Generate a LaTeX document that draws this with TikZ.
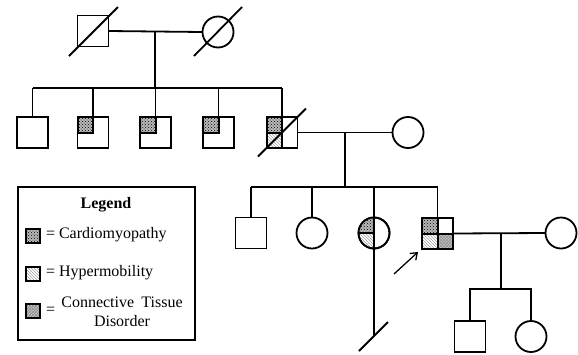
\documentclass[tikz,border=0pt]{standalone}
\usepackage{fontspec}
\setmainfont{Liberation Serif}
\usetikzlibrary{patterns,arrows.meta,calc}
\begin{document}
\begin{tikzpicture}[x=1pt,y=-1pt,
  every node/.style={outer sep=0pt,inner sep=0pt},
  ln/.style={line width=1.8pt},
  male/.style={draw,line width=1.8pt,rectangle,minimum size=31pt},
  female/.style={draw,line width=1.8pt,circle,minimum size=31pt},
  cardiobg/.style={fill=gray!55},
  cardio/.style={pattern=crosshatch dots,pattern color=black},
  hyper/.style={pattern=north west lines,pattern color=gray!75},
  ctd/.style={pattern=crosshatch,pattern color=gray!90},
  ctdbg/.style={fill=gray!45},
  quad/.style={line width=2pt},
  lgicon/.style={draw,line width=2pt,rectangle,minimum size=14pt},
  lgtext/.style={font=\fontsize{16}{19}\selectfont}
]
\useasboundingbox (0,0) rectangle (578,354);
% generation I
\node[male] (f1) at (93,31) {};
\node[female] (m1) at (218,32) {};
\draw[ln] (f1.east) -- (m1.west);
\coordinate (d1) at (155,32);
\coordinate (s1) at (155,88);
\draw[ln] (d1) -- (s1);
\draw[ln] ($(f1)+(-24,25)$) -- ($(f1)+(25,-24)$);
\draw[ln] ($(m1)+(-24,24)$) -- ($(m1)+(24,-25)$);
% generation II
\node[male] (c1) at (32.5,132.5) {};
\node[male] (c2) at (93,132.5) {};
\node[male] (c3) at (155.5,132.5) {};
\node[male] (c4) at (218.5,132.5) {};
\node[male] (c5) at (282,132.5) {};
\coordinate (l1) at (32.5,88);
\coordinate (r1) at (282,88);
\draw[ln] (l1) -- (r1);
\foreach \c in {c1,c2,c3,c4,c5} \draw[ln] (\c.north |- s1) -- (\c.north);
\foreach \c in {c2,c3,c4} {
  \fill[cardiobg] (\c.north west) rectangle (\c.center);
  \fill[cardio] (\c.north west) rectangle (\c.center);
  \draw[quad] (\c.north west) rectangle (\c.center);
}
\fill[cardiobg] (c5.north west) rectangle (c5.center);
\fill[cardio] (c5.north west) rectangle (c5.center);
\fill[hyper] (c5.west) rectangle (c5.south);
\draw[quad] (c5.north west) rectangle (c5.south);
\draw[quad] (c5.west) -- (c5.center);
\draw[ln] ($(c5)+(-24,24)$) -- ($(c5)+(24,-24)$);
\node[female] (w2) at (408,132.5) {};
\draw[ln] (c5.east) -- (w2.west);
\coordinate (d2) at (345,132.5);
\coordinate (s2) at (345,187);
\draw[ln] (d2) -- (s2);
% generation III
\node[male] (g1) at (251,233) {};
\node[female] (g2) at (312,233) {};
\node[female] (g3) at (374,233) {};
\node[male,line width=2.3pt] (p) at (437.5,233.5) {};
\coordinate (l2) at (251,187);
\coordinate (r2) at (437.5,187);
\draw[ln] (l2) -- (r2);
\foreach \c in {g1,g2,p} \draw[ln] (\c.north |- s2) -- (\c.north);
% g3 quadrants
\fill[cardiobg] (g3.center) -- (g3.north) arc[start angle=90,end angle=180,radius=15.5pt] -- cycle;
\fill[cardio] (g3.center) -- (g3.north) arc[start angle=90,end angle=180,radius=15.5pt] -- cycle;
\fill[hyper] (g3.center) -- (g3.west) arc[start angle=180,end angle=270,radius=15.5pt] -- cycle;
\draw[ln] (g3.west) -- (g3.center);
\draw[ln] (g3) circle[radius=15.5pt];
\coordinate (g3end) at (374,336);
\draw[ln] (g3.north |- s2) -- (g3end);
\draw[ln] (359,351) -- (388,322);
% proband quadrants
\fill[cardiobg] (p.north west) rectangle (p.center);
\fill[cardio] (p.north west) rectangle (p.center);
\fill[hyper] (p.west) rectangle (p.south);
\fill[ctdbg] (p.center) rectangle (p.south east);
\fill[ctd] (p.center) rectangle (p.south east);
\draw[quad] (p.north) -- (p.south);
\draw[quad] (p.west) -- (p.east);
\draw[line width=2.3pt] (p.north west) rectangle (p.south east);
\coordinate (ar) at (394,274);
\draw[line width=1.3pt,-{Straight Barb[length=6pt,width=9pt]}] (ar) -- ($(p.south west)+(-4,3)$);
\node[female] (w3) at (561,233) {};
\draw[ln] (p.east) -- (w3.west);
\coordinate (d3) at (501,233.5);
\coordinate (s3) at (501,289);
\draw[ln] (d3) -- (s3);
% generation IV
\node[male] (h1) at (470,336.5) {};
\node[female] (h2) at (531,336.5) {};
\draw[ln] (h1.north) |- (s3) -| (h2.north);
% legend
\node[draw,line width=1.6pt,minimum width=177pt,minimum height=153pt] (lg) at (106.5,263.5) {};
\node[lgtext,font=\fontsize{16}{19}\selectfont\bfseries] (lt) at (106,205) {Legend};
\node[lgicon] (i1) at (33,236) {};
\fill[cardiobg] (i1.north west) rectangle (i1.south east);
\fill[cardio] (i1.north west) rectangle (i1.south east);
\draw[line width=2pt] (i1.north west) rectangle (i1.south east);
\node[lgicon] (i2) at (33,274) {};
\fill[hyper] (i2.north west) rectangle (i2.south east);
\draw[line width=2pt] (i2.north west) rectangle (i2.south east);
\node[lgicon] (i3) at (33,311) {};
\fill[ctdbg] (i3.north west) rectangle (i3.south east);
\fill[ctd] (i3.north west) rectangle (i3.south east);
\draw[line width=2pt] (i3.north west) rectangle (i3.south east);
\node[lgtext,anchor=west] (t1) at (46,235) {= Cardiomyopathy};
\node[lgtext,anchor=west] (t2) at (46,273) {= Hypermobility};
\node[lgtext,anchor=west] (t3e) at (46,311) {=};
\node[lgtext,align=center] (t3) at (122,312) {Connective\hspace{0.45em}Tissue\\Disorder};
\end{tikzpicture}
\end{document}
